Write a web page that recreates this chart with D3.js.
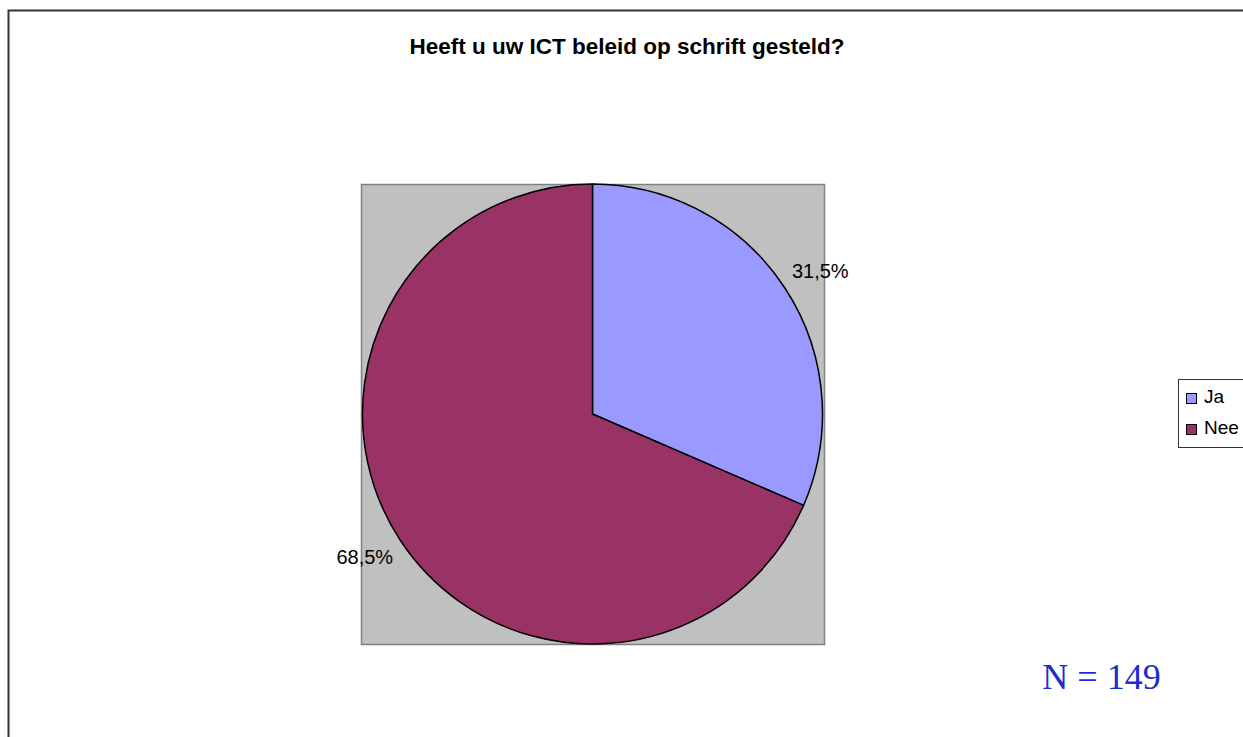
<!DOCTYPE html>
<html><head><meta charset="utf-8">
<script src="https://cdn.jsdelivr.net/npm/d3@7"></script>
<style>html,body{margin:0;padding:0;background:#fff;}svg{display:block;}</style>
</head><body>
<svg id="c" width="1243" height="737"></svg>
<script>
const categories = ["Ja", "Nee"];
const values = [31.5, 68.5];
const labels = ["31,5%", "68,5%"];
const colors = ["#9999FF", "#993366"];
const title = "Heeft u uw ICT beleid op schrift gesteld?";
const note = "N = 149";

const svg = d3.select("#c");
// outer chart border
svg.append("rect").attr("x", 8.5).attr("y", 10.5).attr("width", 1300).attr("height", 800)
  .attr("fill", "#fff").attr("stroke", "#333").attr("stroke-width", 2);

svg.append("text").attr("x", 627).attr("y", 54).attr("text-anchor", "middle")
  .attr("font-family", "Arial, 'Liberation Sans', sans-serif").attr("font-weight", "bold")
  .attr("font-size", 22.5).attr("fill", "#000").text(title);

// plot area
svg.append("rect").attr("x", 361.5).attr("y", 184.5).attr("width", 463).attr("height", 460)
  .attr("fill", "#C0C0C0").attr("stroke", "#808080").attr("stroke-width", 1.5);

const cx = 592.5, cy = 414, r = 230;
const pie = d3.pie().sort(null).value(d => d)(values);
const arc = d3.arc().innerRadius(0).outerRadius(r);
const g = svg.append("g").attr("transform", `translate(${cx},${cy})`);
g.selectAll("path").data(pie).join("path")
  .attr("d", arc).attr("fill", (d, i) => colors[i])
  .attr("stroke", "#000").attr("stroke-width", 1.5).attr("stroke-linejoin", "round");

const labelR = 269, shift = 0.02;
g.selectAll("text").data(pie).join("text")
  .attr("transform", d => {
    const a = (d.startAngle + d.endAngle) / 2 + shift;
    return `translate(${labelR * Math.sin(a)},${-labelR * Math.cos(a)})`;
  })
  .attr("text-anchor", "middle").attr("dy", "0.35em")
  .attr("font-family", "Arial, 'Liberation Sans', sans-serif").attr("font-size", 20)
  .attr("fill", "#000").text((d, i) => labels[i]);

// legend
const lg = svg.append("g");
lg.append("rect").attr("x", 1178.5).attr("y", 379.5).attr("width", 80).attr("height", 68)
  .attr("fill", "#fff").attr("stroke", "#333").attr("stroke-width", 1);
categories.forEach((c, i) => {
  const y = 393 + i * 31;
  lg.append("rect").attr("x", 1186.5).attr("y", y + 0.5).attr("width", 10).attr("height", 10)
    .attr("fill", colors[i]).attr("stroke", "#000").attr("stroke-width", 1);
  lg.append("text").attr("x", 1204).attr("y", y + 9.5)
    .attr("font-family", "Arial, 'Liberation Sans', sans-serif").attr("font-size", 19)
    .attr("fill", "#000").text(c);
});

svg.append("text").attr("x", 1101.5).attr("y", 689).attr("text-anchor", "middle")
  .attr("font-family", "'Times New Roman', 'Liberation Serif', serif").attr("font-size", 36)
  .attr("fill", "#1A2ECC").text(note);
</script>
</body></html>
